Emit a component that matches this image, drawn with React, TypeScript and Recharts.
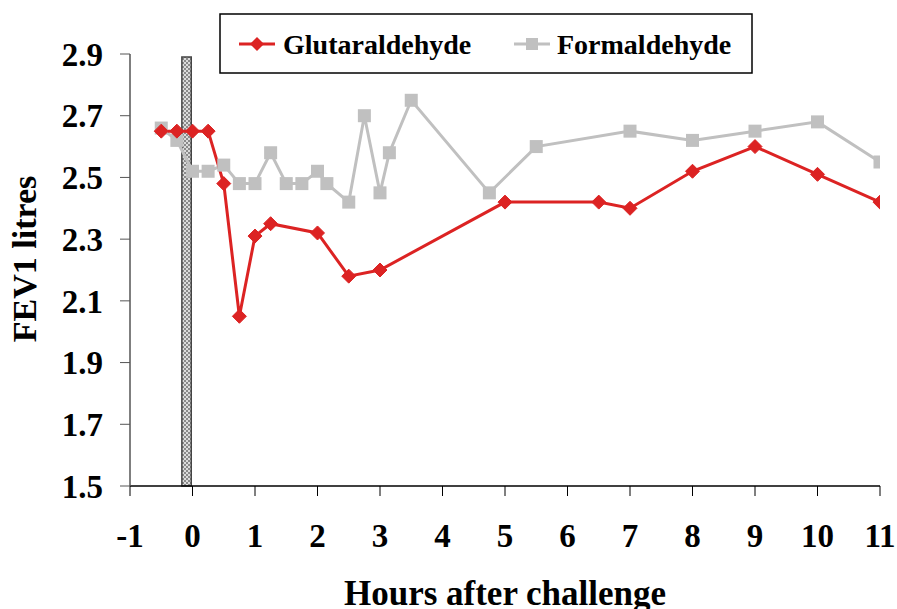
import React from "react";
import { LineChart, Line, XAxis, YAxis, ReferenceArea, Legend } from "recharts";

// Glutaraldehyde challenge (hours after challenge, FEV1 litres)
const glutHours = [-0.5, -0.25, 0, 0.25, 0.5, 0.75, 1, 1.25, 2, 2.5, 3, 5, 6.5, 7, 8, 9, 10, 11];
const glutFev = [2.65, 2.65, 2.65, 2.65, 2.48, 2.05, 2.31, 2.35, 2.32, 2.18, 2.2, 2.42, 2.42, 2.4, 2.52, 2.6, 2.51, 2.42];

// Formaldehyde challenge
const formHours = [-0.5, -0.25, 0, 0.25, 0.5, 0.75, 1, 1.25, 1.5, 1.75, 2, 2.15, 2.5, 2.75, 3, 3.15, 3.5, 4.75, 5.5, 7, 8, 9, 10, 11];
const formFev = [2.66, 2.62, 2.52, 2.52, 2.54, 2.48, 2.48, 2.58, 2.48, 2.48, 2.52, 2.48, 2.42, 2.7, 2.45, 2.58, 2.75, 2.45, 2.6, 2.65, 2.62, 2.65, 2.68, 2.55];

// Exposure period bar
const exposureStart = -0.17;
const exposureEnd = -0.02;
const exposureTop = 2.89;

const xTicks = [-1, 0, 1, 2, 3, 4, 5, 6, 7, 8, 9, 10, 11];
const yTicks = [1.5, 1.7, 1.9, 2.1, 2.3, 2.5, 2.7, 2.9];

const seriesNames = ["Glutaraldehyde", "Formaldehyde"];
const RED = "#dc2323";
const GRAY = "#c0c0c0";
const FONT = "Liberation Serif, Times New Roman, serif";

const glutData = glutHours.map((h, i) => ({ h, v: glutFev[i] }));
const formData = formHours.map((h, i) => ({ h, v: formFev[i] }));

const Diamond = (props: any) => {
  const { cx, cy, index } = props;
  if (cx == null || cy == null) return <g key={`d-${index}`} />;
  const r = 7;
  return (
    <polygon
      key={`d-${index}`}
      points={`${cx},${cy - r} ${cx + r},${cy} ${cx},${cy + r} ${cx - r},${cy}`}
      fill={RED}
      stroke={RED}
      strokeWidth={1}
    />
  );
};

const Square = (props: any) => {
  const { cx, cy, index } = props;
  if (cx == null || cy == null) return <g key={`s-${index}`} />;
  const s = 6.5;
  return <rect key={`s-${index}`} x={cx - s} y={cy - s} width={2 * s} height={2 * s} fill={GRAY} />;
};

const LegendBox = () => (
  <svg width={534} height={62} style={{ position: "absolute", left: 219, top: 13, overflow: "visible" }}>
    <rect x={1} y={1} width={532} height={59} fill="#fff" stroke="#000" strokeWidth={1.5} />
    <line x1={20} y1={31} x2={56} y2={31} stroke={RED} strokeWidth={3} />
    <polygon points="38,24 45,31 38,38 31,31" fill={RED} />
    <text x={64} y={41} fontFamily={FONT} fontWeight="bold" fontSize={28} fill="#000">
      {seriesNames[0]}
    </text>
    <line x1={295} y1={31} x2={331} y2={31} stroke={GRAY} strokeWidth={3} />
    <rect x={307} y={25} width={12} height={12} fill={GRAY} />
    <text x={338} y={41} fontFamily={FONT} fontWeight="bold" fontSize={28} fill="#000">
      {seriesNames[1]}
    </text>
  </svg>
);

const YTitle = (props: any) => {
  const vb = props.viewBox || { x: 0, y: 54, width: 130, height: 432 };
  const x = 36;
  const y = vb.y + vb.height / 2 - 11;
  return (
    <text
      x={x}
      y={y}
      transform={`rotate(-90 ${x} ${y})`}
      textAnchor="middle"
      fontFamily={FONT}
      fontWeight="bold"
      fontSize={34}
      fill="#000"
    >
      FEV1 litres
    </text>
  );
};

export default function App() {
  return (
    <div style={{ position: "absolute", left: 0, top: 0, width: 897, height: 609, background: "#fff" }}>
      <LineChart width={897} height={609} margin={{ top: 54, right: 17, left: 0, bottom: 0 }}>
        <defs>
          <pattern id="checker" width="4" height="4" patternUnits="userSpaceOnUse">
            <rect width="4" height="4" fill="#dcdcdc" />
            <rect x="0" y="0" width="2" height="2" fill="#8a8a8a" />
            <rect x="2" y="2" width="2" height="2" fill="#8a8a8a" />
          </pattern>
        </defs>
        <XAxis
          dataKey="h"
          type="number"
          domain={[-1, 11]}
          ticks={xTicks}
          allowDataOverflow
          height={123}
          tickSize={10}
          tickMargin={28}
          axisLine={{ stroke: "#000", strokeWidth: 1.5 }}
          tickLine={{ stroke: "#000", strokeWidth: 1 }}
          tick={{ fontFamily: FONT, fontWeight: "bold", fontSize: 33, fill: "#000" }}
          label={{
            value: "Hours after challenge",
            position: "insideBottom",
            offset: 4,
            style: { fontFamily: FONT, fontWeight: "bold", fontSize: 35, fill: "#000" },
          }}
        />
        <YAxis
          dataKey="v"
          type="number"
          domain={[1.5, 2.9]}
          ticks={yTicks}
          allowDataOverflow
          width={130}
          tickSize={10}
          tickMargin={17}
          tickFormatter={(v: number) => v.toFixed(1)}
          axisLine={{ stroke: "#555", strokeWidth: 1.5 }}
          tickLine={{ stroke: "#555", strokeWidth: 1 }}
          tick={{ fontFamily: FONT, fontWeight: "bold", fontSize: 33, fill: "#000" }}
          label={<YTitle />}
        />
        <ReferenceArea
          x1={exposureStart}
          x2={exposureEnd}
          y1={1.5}
          y2={exposureTop}
          fill="url(#checker)"
          fillOpacity={1}
          stroke="#444"
          strokeWidth={1.5}
        />
        <Line
          data={formData}
          dataKey="v"
          name={seriesNames[1]}
          stroke={GRAY}
          strokeWidth={3}
          dot={(p: any) => <Square {...p} key={`s-${p.index}`} />}
          activeDot={false}
          isAnimationActive={false}
        />
        <Line
          data={glutData}
          dataKey="v"
          name={seriesNames[0]}
          stroke={RED}
          strokeWidth={3}
          dot={(p: any) => <Diamond {...p} key={`d-${p.index}`} />}
          activeDot={false}
          isAnimationActive={false}
        />
        <Legend
          layout="horizontal"
          verticalAlign="middle"
          align="center"
          wrapperStyle={{ position: "absolute", left: 0, top: 0, width: 0, height: 0 }}
          content={() => <LegendBox />}
        />
      </LineChart>
    </div>
  );
}
